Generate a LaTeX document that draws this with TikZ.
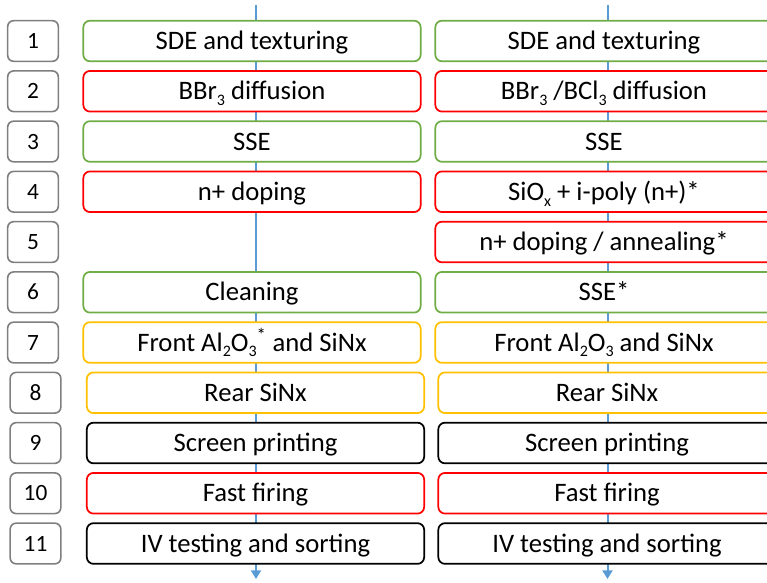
\documentclass[tikz,border=0pt]{standalone}
\usepackage{fontspec}
\setmainfont{Carlito}
\usetikzlibrary{arrows.meta}
\definecolor{stepgreen}{HTML}{70AD47}
\definecolor{stepred}{HTML}{FF0000}
\definecolor{stepgold}{HTML}{FFC000}
\definecolor{numgray}{HTML}{7F7F7F}
\definecolor{flowblue}{HTML}{5B9BD5}
\newcommand{\lowsub}[1]{\raisebox{-0.45ex}{\fontsize{12}{14}\selectfont #1}}
\begin{document}
\begin{tikzpicture}[x=0.75pt, y=-0.75pt,
    numbox/.style={draw=numgray, line width=1.2pt, rounded corners=4.5pt, minimum width=38pt, minimum height=30.5pt, inner sep=0pt, text height=11.3pt, text depth=0pt, font=\fontsize{17.5}{20}\selectfont},
    procbox/.style={draw=#1, fill=white, line width=1.3pt, rounded corners=5pt, minimum width=253pt, minimum height=30.5pt, inner sep=0pt, text height=12.9pt, text depth=0pt, font=\fontsize{20}{24}\selectfont}]
    \useasboundingbox (0,0) rectangle (767,582);
    \clip (0,0) rectangle (767,582);
    % process flow lines
    \coordinate (lt) at (256,5);
    \coordinate (lb) at (256,579);
    \coordinate (rt) at (607.5,5);
    \coordinate (rb) at (607.5,579);
    \draw[flowblue, line width=1.5pt, -{Triangle[width=7.5pt, length=6.5pt]}] (lt) -- (lb);
    \draw[flowblue, line width=1.5pt, -{Triangle[width=7.5pt, length=6.5pt]}] (rt) -- (rb);
    % step numbers
    \node[numbox] (n1) at (33,41) {1};
    \node[numbox] (n2) at (33,91.25) {2};
    \node[numbox] (n3) at (33,141.5) {3};
    \node[numbox] (n4) at (33,191.75) {4};
    \node[numbox] (n5) at (33,242) {5};
    \node[numbox] (n6) at (33,292.25) {6};
    \node[numbox] (n7) at (33,342.5) {7};
    \node[numbox] (n8) at (35.5,392.75) {8};
    \node[numbox] (n9) at (35.5,443) {9};
    \node[numbox] (n10) at (35.5,493.25) {10};
    \node[numbox] (n11) at (35.5,543.5) {11};
    % left process
    \node[procbox=stepgreen] (l1) at (252,41) {SDE and texturing};
    \node[procbox=stepred] (l2) at (252,91.25) {BBr\lowsub{3} diffusion};
    \node[procbox=stepgreen] (l3) at (252,141.5) {SSE};
    \node[procbox=stepred] (l4) at (252,191.75) {n+ doping};
    \node[procbox=stepgreen] (l6) at (252,292.25) {Cleaning};
    \node[procbox=stepgold] (l7) at (252,342.5) {Front Al\lowsub{2}O\lowsub{3}\textsuperscript{*} and SiNx};
    \node[procbox=stepgold] (l8) at (255.5,392.75) {Rear SiNx};
    \node[procbox=black] (l9) at (255.5,443) {Screen printing};
    \node[procbox=stepred] (l10) at (255.5,493.25) {Fast firing};
    \node[procbox=black] (l11) at (255.5,543.5) {IV testing and sorting};
    % right process
    \node[procbox=stepgreen] (r1) at (604,41) {SDE and texturing};
    \node[procbox=stepred] (r2) at (604,91.25) {BBr\lowsub{3} /BCl\lowsub{3} diffusion};
    \node[procbox=stepgreen] (r3) at (604,141.5) {SSE};
    \node[procbox=stepred] (r4) at (604,191.75) {SiO\lowsub{x} + i-poly (n+)*};
    \node[procbox=stepred] (r5) at (604,242) {n+ doping / annealing*};
    \node[procbox=stepgreen] (r6) at (604,292.25) {SSE*};
    \node[procbox=stepgold] (r7) at (604,342.5) {Front Al\lowsub{2}O\lowsub{3} and SiNx};
    \node[procbox=stepgold] (r8) at (607,392.75) {Rear SiNx};
    \node[procbox=black] (r9) at (607,443) {Screen printing};
    \node[procbox=stepred] (r10) at (607,493.25) {Fast firing};
    \node[procbox=black] (r11) at (607,543.5) {IV testing and sorting};
\end{tikzpicture}
\end{document}
